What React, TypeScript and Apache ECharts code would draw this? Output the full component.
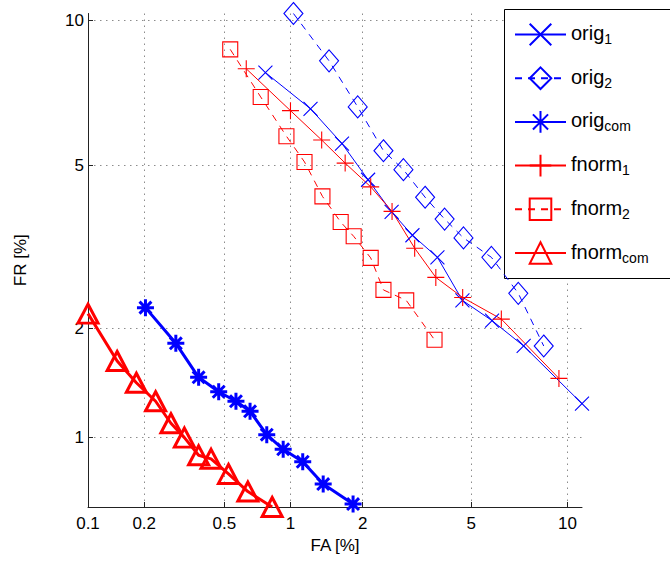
import React, { useEffect, useRef } from "react";
import * as echarts from "echarts";

// Tick labels (percent)
const xTickLabels = [0.1, 0.2, 0.5, 1, 2, 5, 10];
const yTickLabels = [1, 2, 5, 10];

// Series values (FA %, FR %)
const orig1FA = [0.774, 1.22, 1.65, 2.1, 2.59, 3.1, 3.82, 4.67, 5.87, 7.4, 11.0];
const orig1FR = [7.89, 6.64, 5.59, 4.64, 3.91, 3.44, 3.04, 2.37, 2.1, 1.8, 1.25];
const orig2FA = [1.03, 1.46, 1.91, 2.41, 2.87, 3.45, 4.05, 4.71, 5.84, 7.12, 8.52];
const orig2FR = [10.3, 8.33, 6.7, 5.39, 4.89, 4.23, 3.76, 3.39, 3.04, 2.47, 1.8];
const origComFA = [0.203, 0.29, 0.376, 0.47, 0.567, 0.659, 0.785, 0.929, 1.13, 1.38, 1.83];
const origComFR = [2.27, 1.83, 1.48, 1.35, 1.27, 1.19, 1.02, 0.925, 0.85, 0.729, 0.634];
const fnorm1FA = [0.633, 1.0, 1.36, 1.7, 2.15, 2.6, 3.16, 3.77, 4.68, 6.29, 9.45];
const fnorm1FR = [8.03, 6.58, 5.69, 5.06, 4.47, 3.92, 3.2, 2.71, 2.41, 2.12, 1.47];
const fnorm2FA = [0.533, 0.737, 0.96, 1.15, 1.37, 1.63, 1.84, 2.15, 2.41, 2.94, 3.73];
const fnorm2FR = [8.78, 7.03, 5.8, 5.09, 4.25, 3.7, 3.42, 3.03, 2.52, 2.37, 1.87];
const fnormComFA = [0.1, 0.144, 0.182, 0.229, 0.274, 0.32, 0.376, 0.432, 0.523, 0.644, 0.83];
const fnormComFR = [2.19, 1.64, 1.43, 1.27, 1.1, 1.0, 0.888, 0.867, 0.782, 0.692, 0.621];

const seriesNames = ["orig1", "orig2", "origcom", "fnorm1", "fnorm2", "fnormcom"];
const nameBase = ["orig", "orig", "orig", "fnorm", "fnorm", "fnorm"];
const nameSub = ["1", "2", "com", "1", "2", "com"];

// Normal deviate (probit) transform used by DET plots
function probit(p: number): number {
  const a = [-39.69683028665376, 220.9460984245205, -275.9285104469687, 138.357751867269, -30.66479806614716, 2.506628277459239];
  const b = [-54.47609879822406, 161.5858368580409, -155.6989798598866, 66.80131188771972, -13.28068155288572];
  const c = [-0.007784894002430293, -0.3223964580411365, -2.400758277161838, -2.549671627763692, 4.374664141464968, 2.938163982698783];
  const d = [0.007784695709041462, 0.3224671290700398, 2.445134137142996, 3.754408661907416];
  const pl = 0.02425;
  if (p < pl) {
    const q = Math.sqrt(-2 * Math.log(p));
    return (((((c[0] * q + c[1]) * q + c[2]) * q + c[3]) * q + c[4]) * q + c[5]) /
      ((((d[0] * q + d[1]) * q + d[2]) * q + d[3]) * q + 1);
  }
  if (p <= 1 - pl) {
    const q = p - 0.5;
    const r = q * q;
    return ((((((a[0] * r + a[1]) * r + a[2]) * r + a[3]) * r + a[4]) * r + a[5]) * q) /
      (((((b[0] * r + b[1]) * r + b[2]) * r + b[3]) * r + b[4]) * r + 1);
  }
  const q = Math.sqrt(-2 * Math.log(1 - p));
  return -(((((c[0] * q + c[1]) * q + c[2]) * q + c[3]) * q + c[4]) * q + c[5]) /
    ((((d[0] * q + d[1]) * q + d[2]) * q + d[3]) * q + 1);
}
const dev = (pct: number) => probit(pct / 100);

const FONT = "'Liberation Sans', Arial, Helvetica, sans-serif";
const BLUE = "#0000ff";
const RED = "#ff0000";

const SYM_X = "path://M0,0L10,10M10,0L0,10";
const SYM_PLUS = "path://M5,0L5,10M0,5L10,5";
const SYM_STAR = "path://M5,0L5,10M0,5L10,5M1.5,1.5L8.5,8.5M8.5,1.5L1.5,8.5";

export default function App() {
  const ref = useRef<HTMLDivElement>(null);

  useEffect(() => {
    if (!ref.current) return;
    const chart = echarts.init(ref.current, null, { renderer: "svg" });

    const allFA = [...orig1FA, ...orig2FA, ...origComFA, ...fnorm1FA, ...fnorm2FA, ...fnormComFA];
    const allFR = [...orig1FR, ...orig2FR, ...origComFR, ...fnorm1FR, ...fnorm2FR, ...fnormComFR];
    const xMin = dev(Math.min(...allFA));
    const xMax = dev(Math.max(...allFA));
    const yMin = dev(Math.min(...allFR));
    const yMax = dev(Math.max(...allFR));

    const xTicks = xTickLabels.map(dev);
    const yTicks = yTickLabels.map(dev);
    const fmt = (labels: number[]) => (v: number) => {
      for (const l of labels) if (Math.abs(dev(l) - v) < 1e-6) return String(l);
      return "";
    };

    const mk = (fa: number[], fr: number[]) => fa.map((f, i) => [dev(f), dev(fr[i])]);

    const series: any[] = [
      {
        name: "orig1", data: mk(orig1FA, orig1FR), symbol: SYM_X, symbolSize: 14,
        lineStyle: { color: BLUE, width: 1 },
        itemStyle: { color: "transparent", borderColor: BLUE, borderWidth: 1.1 },
      },
      {
        name: "orig2", data: mk(orig2FA, orig2FR), symbol: "diamond", symbolSize: [19, 22],
        lineStyle: { color: BLUE, width: 1, type: [7, 6] },
        itemStyle: { color: "transparent", borderColor: BLUE, borderWidth: 1.1 },
      },
      {
        name: "origcom", data: mk(origComFA, origComFR), symbol: SYM_STAR, symbolSize: 17,
        lineStyle: { color: BLUE, width: 3 },
        itemStyle: { color: "transparent", borderColor: BLUE, borderWidth: 3 },
      },
      {
        name: "fnorm1", data: mk(fnorm1FA, fnorm1FR), symbol: SYM_PLUS, symbolSize: 17,
        lineStyle: { color: RED, width: 1 },
        itemStyle: { color: "transparent", borderColor: RED, borderWidth: 1.1 },
      },
      {
        name: "fnorm2", data: mk(fnorm2FA, fnorm2FR), symbol: "rect", symbolSize: 15,
        lineStyle: { color: RED, width: 1, type: [7, 6] },
        itemStyle: { color: "transparent", borderColor: RED, borderWidth: 1.1 },
      },
      {
        name: "fnormcom", data: mk(fnormComFA, fnormComFR), symbol: "triangle", symbolSize: [20, 19],
        lineStyle: { color: RED, width: 3 },
        itemStyle: { color: "transparent", borderColor: RED, borderWidth: 3 },
      },
    ].map((s) => ({ ...s, type: "line", clip: false, showSymbol: true, emphasis: { disabled: true } }));

    const axisText = { fontSize: 17, color: "#000", fontFamily: FONT };

    chart.setOption({
      animation: false,
      backgroundColor: "#fff",
      grid: { left: 88, right: 88, top: 13.5, bottom: 56 },
      xAxis: {
        type: "value", min: xMin, max: xMax,
        name: "FA [%]", nameLocation: "middle", nameGap: 30,
        nameTextStyle: { fontSize: 17, color: "#000", fontFamily: FONT },
        axisLine: { show: true, onZero: false, lineStyle: { color: "#222", width: 1 } },
        axisTick: { show: true, inside: true, length: 5, customValues: xTicks, lineStyle: { color: "#222" } },
        axisLabel: { ...axisText, customValues: xTicks, formatter: fmt(xTickLabels), margin: 8 },
        splitLine: { show: true, lineStyle: { color: "#8c8c8c", width: 1, type: [1.5, 4.5] } },
      },
      yAxis: {
        type: "value", min: yMin, max: yMax,
        name: "FR [%]", nameLocation: "middle", nameGap: 59,
        nameTextStyle: { fontSize: 17, color: "#000", fontFamily: FONT },
        axisLine: { show: true, onZero: false, lineStyle: { color: "#222", width: 1 } },
        axisTick: { show: true, inside: true, length: 5, customValues: yTicks, lineStyle: { color: "#222" } },
        axisLabel: { ...axisText, customValues: yTicks, formatter: fmt(yTickLabels), margin: 4 },
        splitLine: { show: true, lineStyle: { color: "#8c8c8c", width: 1, type: [1.5, 4.5] } },
      },
      graphic: [
        {
          type: "rect", z: 3, silent: true,
          shape: { x: 504.5, y: 9.5, width: 200, height: 269 },
          style: { fill: "#fff", stroke: "#000", lineWidth: 1 },
        },
      ],
      legend: {
        orient: "vertical", left: 514, top: 20,
        itemWidth: 51, itemHeight: 27, itemGap: 17.4,
        padding: 0,
        data: seriesNames,
        formatter: (name: string) => {
          const i = seriesNames.indexOf(name);
          return `{m|${nameBase[i]}}{s|${nameSub[i]}}`;
        },
        textStyle: {
          fontFamily: FONT, color: "#000",
          rich: {
            m: { fontSize: 20, fontFamily: FONT, lineHeight: 23, verticalAlign: "top" },
            s: { fontSize: 14, fontFamily: FONT, lineHeight: 15, verticalAlign: "bottom", padding: [12, 0, 0, 0] },
          },
        },
      },
      series,
    });

    return () => chart.dispose();
  }, []);

  return (
    <div
      ref={ref}
      style={{ position: "fixed", left: 0, top: 0, width: 670, height: 563, background: "#fff" }}
    />
  );
}
